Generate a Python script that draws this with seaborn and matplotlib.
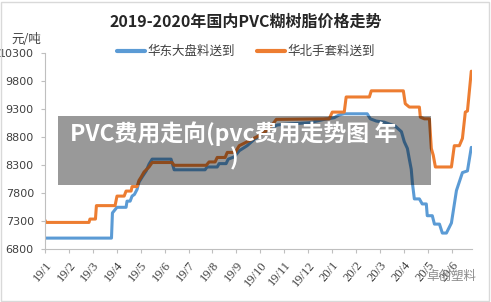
import pandas as pd
import matplotlib
matplotlib.use("Agg")
import matplotlib.pyplot as plt
from matplotlib.patches import Rectangle
from matplotlib.lines import Line2D
import seaborn as sns

TITLE = "2019-2020年国内PVC糊树脂价格走势"
UNIT = "元/吨"
SERIES = ["华东大盘料送到", "华北手套料送到"]
COLORS = ["#5B9BD5", "#ED7D31"]
MONTH_LABELS = ["19/1", "19/2", "19/3", "19/4", "19/5", "19/6", "19/7", "19/8", "19/9",
                "19/10", "19/11", "19/12", "20/1", "20/2", "20/3", "20/4", "20/5", "20/6"]
Y_TICKS = [6800, 7300, 7800, 8300, 8800, 9300, 9800, 10300]
OVERLAY = "PVC费用走向(pvc费用走势图 年\n)"
MARK = "卓创塑料"

# months counted from 19/1 (0 = start of Jan 2019)
east_month = [0.00, 2.78, 2.82, 3.01, 3.39, 3.43, 3.56, 3.64, 3.74, 3.85, 3.93, 4.06, 4.23,
              4.35, 4.48, 5.27, 5.40, 6.69, 6.78, 7.20, 7.28, 7.57, 7.66, 7.91, 8.12, 8.45,
              8.74, 9.04, 9.37, 9.71, 10.21, 11.05, 11.67, 12.09, 12.30, 12.51, 13.47, 13.60,
              13.85, 14.18, 14.64, 14.90, 15.02, 15.15, 15.23, 15.31, 15.36, 15.44, 15.65,
              15.77, 15.94, 15.98, 16.19, 16.28, 16.49, 16.61, 16.78, 16.99, 17.20, 17.45,
              17.66, 17.82]
east_price = [7000, 7000, 7450, 7550, 7550, 7660, 7660, 7750, 7780, 7870, 8000, 8090, 8200,
              8320, 8410, 8410, 8220, 8220, 8270, 8270, 8330, 8330, 8410, 8450, 8560, 8650,
              8760, 8850, 8950, 9020, 9040, 9060, 9120, 9150, 9200, 9220, 9220, 9130,
              9090, 9070, 9000, 8900, 8720, 8600, 8410, 8230, 7980, 7700, 7700,
              7610, 7610, 7400, 7400, 7250, 7250, 7090, 7090, 7270, 7850, 8170,
              8200, 8620]

north_month = [0.00, 0.04, 1.84, 1.88, 2.11, 2.15, 2.93, 3.01, 3.31, 3.39, 3.60, 3.64, 3.85,
               3.93, 4.02, 4.14, 4.35, 4.48, 5.31, 5.40, 6.74, 6.86, 7.11, 7.20, 7.53, 7.62,
               7.95, 8.12, 8.54, 8.95, 9.37, 9.67, 11.88, 12.01, 12.51, 12.59, 13.56, 13.64,
               14.98, 15.06, 15.23, 15.65, 15.69, 15.86, 16.07, 16.15, 16.23, 16.32, 16.99,
               17.11, 17.32, 17.45, 17.57, 17.66, 17.82]
north_price = [7320, 7280, 7280, 7340, 7340, 7580, 7580, 7750, 7750, 7840, 7840, 7920, 7920,
               8030, 8090, 8180, 8270, 8350, 8350, 8300, 8300, 8360, 8360, 8440, 8440, 8530,
               8530, 8650, 8740, 8830, 8950, 9120, 9130, 9250, 9250, 9520, 9520, 9630,
               9630, 9400, 9340, 9340, 9160, 9130, 9130, 8600, 8480, 8270, 8270,
               8650, 8650, 8780, 9250, 9270, 9980]

df = pd.concat([
    pd.DataFrame({"month": east_month, "price": east_price, "series": SERIES[0]}),
    pd.DataFrame({"month": north_month, "price": north_price, "series": SERIES[1]}),
], ignore_index=True)

sns.set_style("white")
plt.rcParams["font.family"] = ["Noto Sans CJK SC", "DejaVu Sans"]

fig = plt.figure(figsize=(4.91, 3.02), dpi=100)
ax = fig.add_axes([0.0916, 0.1745, 0.8697, 0.649])

sns.lineplot(data=df, x="month", y="price", hue="series", hue_order=SERIES,
             palette=COLORS, estimator=None, sort=False, linewidth=2.2,
             legend=False, ax=ax)

ax.set_xlim(0, 17.85)
ax.set_ylim(6800, 10300)
ax.set_xlabel("")
ax.set_ylabel("")

ax.set_yticks(Y_TICKS)
ax.set_yticklabels([str(v) for v in Y_TICKS], fontsize=8, family="DejaVu Sans", color="#404040")
ax.set_xticks(range(len(MONTH_LABELS)))
ax.set_xticklabels(MONTH_LABELS, rotation=50, ha="right", va="top", rotation_mode="anchor",
                   fontsize=9, family="Liberation Serif", color="#404040")

for side in ["top", "right"]:
    ax.spines[side].set_visible(False)
for side in ["left", "bottom"]:
    ax.spines[side].set_color("#BFBFBF")
    ax.spines[side].set_linewidth(0.8)
ax.tick_params(axis="y", which="major", left=True, length=3, width=0.8, color="#BFBFBF", pad=5)
ax.tick_params(axis="x", which="major", bottom=True, length=3, width=0.8, color="#BFBFBF", pad=4)
ax.grid(False)

fig.text(0.5, 0.927, TITLE, ha="center", va="center", fontsize=11.5, fontweight="bold",
         color="#262626")
fig.text(0.053, 0.868, UNIT, ha="center", va="center", fontsize=9, color="#404040")

handles = [Line2D([0], [0], color=c, lw=3) for c in COLORS]
fig.legend(handles, SERIES, loc="center", bbox_to_anchor=(0.501, 0.829), ncol=2, frameon=False,
           fontsize=9, handlelength=2.2, handletextpad=0.2, columnspacing=1.8,
           labelcolor="#404040")

# semi-transparent caption banner laid over the chart
fig.patches.append(Rectangle((58 / 491, 1 - 185 / 302), 373 / 491, 69 / 302,
                             transform=fig.transFigure, facecolor="black", alpha=0.4,
                             edgecolor="none", zorder=5))
fig.text(234 / 491, 1 - 146 / 302, OVERLAY, ha="center", va="center", multialignment="center",
         color="white", fontsize=16.5, fontweight="bold", linespacing=1.05, zorder=6)

fig.text(0.97, 0.085, MARK, ha="right", va="center", fontsize=9, color="#8C8C8C")

fig.patches.append(Rectangle((0.003, 0.004), 0.993, 0.99, transform=fig.transFigure,
                             fill=False, edgecolor="#D9D9D9", lw=1))

fig.savefig("out.png", dpi=100)
